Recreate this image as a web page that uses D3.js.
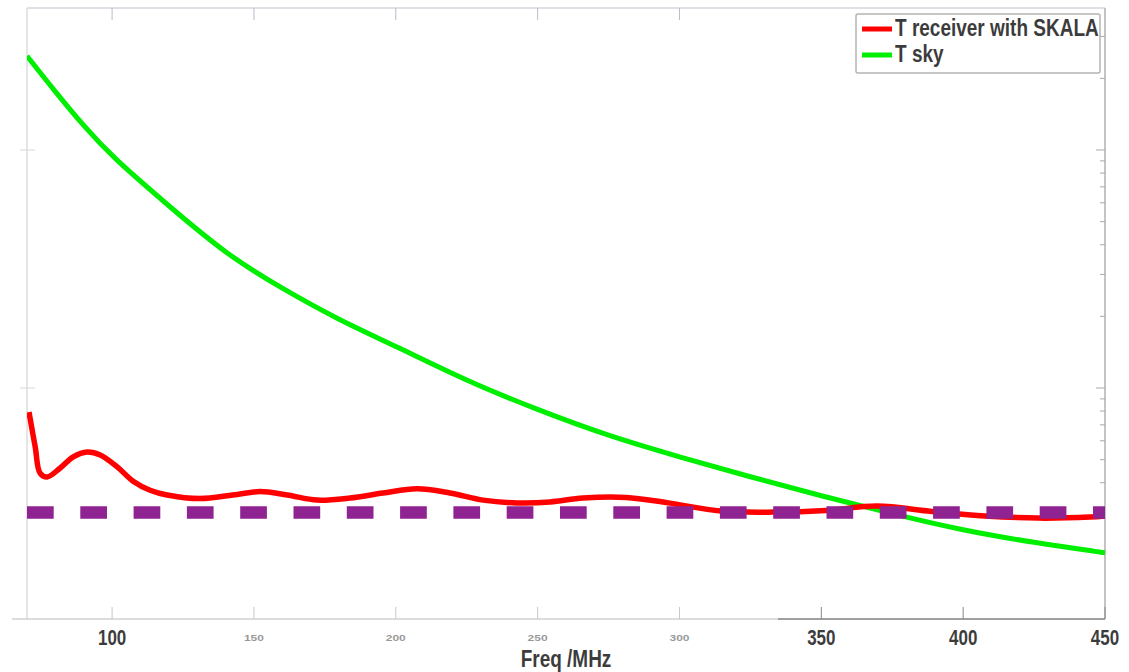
<!DOCTYPE html>
<meta charset="utf-8">
<style>
  body { margin: 0; background: #fff; }
  .lbl { font-family: "Liberation Sans", Arial, sans-serif; fill: #1a1a1a; }
</style>
<body>
<script src="https://cdn.jsdelivr.net/npm/d3@7/dist/d3.min.js"></script>
<script>

// frequency (MHz) and temperature (K)
var skyFreq = [70, 80, 90, 100, 120, 140, 160, 180, 200, 225, 250, 275, 300, 325, 350, 375, 400, 425, 450];
var skyTemp = [2484, 1754, 1262, 935, 582, 366, 261, 193, 150, 107, 80.9, 62.8, 51.3, 42.3, 35.2, 29.6, 25.2, 22.4, 20.3];

var rxFreq = [70.7, 72.9, 74.6, 77.1, 81.7, 86.3, 91.2, 95.8, 101.8, 107.4, 113.4, 119.4, 131.0, 142.6, 152.2, 161.7,
  172.3, 183.9, 195.5, 207.5, 219.1, 230.8, 242.8, 254.4, 266.0, 281.2, 296.0, 314.7, 333.3, 351.7, 369.6, 389.0,
  407.7, 426.4, 444.7, 450];
var rxTemp = [79.2, 56.5, 43.9, 42.3, 46.1, 51.3, 53.8, 52.3, 46.6, 40.6, 37.2, 35.5, 34.3, 35.5, 36.7, 35.5,
  33.8, 34.5, 36.2, 37.7, 36.2, 33.8, 32.9, 33.2, 34.5, 34.7, 32.9, 30.4, 30.1, 30.6, 31.9, 30.3,
  29.0, 28.4, 28.7, 29.0];

var refFreq = [70, 450];
var refTemp = [30, 30];

var xTicks = [100, 150, 200, 250, 300, 350, 400, 450];
var fadedTicks = [150, 200, 250, 300];

var legendNames = ["T receiver with SKALA", "T sky"];
var legendColors = ["#ff0000", "#00ee00"];

var width = 1129, height = 672;
var pLeft = 27, pRight = 1105, pTop = 8, pBottom = 619;

var x = d3.scaleLinear().domain([70, 450]).range([pLeft, pRight]);
var y = d3.scaleLog().domain([10.7, 3950]).range([pBottom, pTop]);

var svg = d3.select("body").append("svg")
    .attr("width", width)
    .attr("height", height);

svg.append("defs").append("clipPath").attr("id", "plot")
  .append("rect")
    .attr("x", pLeft).attr("y", pTop)
    .attr("width", pRight - pLeft).attr("height", pBottom - pTop);

// frame
svg.append("line").attr("x1", pLeft).attr("x2", pRight).attr("y1", pTop).attr("y2", pTop)
    .attr("stroke", "#d4d4dc").attr("stroke-width", 1.5);
svg.append("line").attr("x1", pLeft).attr("x2", pLeft).attr("y1", pTop).attr("y2", pBottom)
    .attr("stroke", "#dcdcdc").attr("stroke-width", 1.5);
svg.append("line").attr("x1", pRight).attr("x2", pRight).attr("y1", pTop).attr("y2", pBottom)
    .attr("stroke", "#b0b0b0").attr("stroke-width", 1.5);
svg.append("line").attr("x1", 12).attr("x2", pRight).attr("y1", pBottom).attr("y2", pBottom)
    .attr("stroke", "#d0d0d0").attr("stroke-width", 1.5);
svg.append("line").attr("x1", 778).attr("x2", pRight).attr("y1", pBottom).attr("y2", pBottom)
    .attr("stroke", "#8c8c8c").attr("stroke-width", 1.5);

// x ticks, bottom and top
svg.append("g").selectAll("line").data(xTicks).enter().append("line")
    .attr("x1", function(d) { return x(d); }).attr("x2", function(d) { return x(d); })
    .attr("y1", pBottom).attr("y2", pBottom - 12)
    .attr("stroke", function(d) { return d >= 350 ? "#888" : "#c8c8c8"; });
svg.append("g").selectAll("line").data(xTicks.slice(0, 5)).enter().append("line")
    .attr("x1", function(d) { return x(d); }).attr("x2", function(d) { return x(d); })
    .attr("y1", pTop).attr("y2", pTop + 12)
    .attr("stroke", "#b8bccb");

// y ticks (log), right side inward, left side faint
var yTicks = y.ticks().filter(function(d) { return d >= 20 && d <= 3000; });
svg.append("g").selectAll("line").data(yTicks).enter().append("line")
    .attr("x1", pRight).attr("y1", function(d) { return y(d); }).attr("y2", function(d) { return y(d); })
    .attr("x2", function(d) { return [100, 1000].indexOf(d) >= 0 ? pRight - 9 : pRight - 5; })
    .attr("stroke", "#a8a8a8");
svg.append("g").selectAll("line").data([100, 1000]).enter().append("line")
    .attr("x1", pLeft - 7).attr("x2", pLeft + 8)
    .attr("y1", function(d) { return y(d); }).attr("y2", function(d) { return y(d); })
    .attr("stroke", "#d8d8d8");

// x tick labels
svg.append("g").selectAll("text").data(xTicks).enter().append("text")
    .attr("class", "lbl")
    .attr("text-anchor", "middle")
    .attr("transform", function(d) {
      var faded = fadedTicks.indexOf(d) >= 0;
      return "translate(" + x(d) + "," + (faded ? 641 : 645) + ") scale(1," + (faded ? 0.8 : 1.3) + ")";
    })
    .style("font-size", function(d) { return fadedTicks.indexOf(d) >= 0 ? "12px" : "17px"; })
    .style("font-weight", "bold")
    .style("opacity", function(d) { return fadedTicks.indexOf(d) >= 0 ? 0.45 : 0.85; })
    .text(function(d) { return d; });

svg.append("text")
    .attr("class", "lbl")
    .attr("text-anchor", "middle")
    .attr("transform", "translate(" + x(260) + ",667) scale(1,1.3)")
    .style("font-size", "19px")
    .style("font-weight", "bold")
    .style("opacity", 0.85)
    .text("Freq /MHz");

var skyLine = d3.line()
    .x(function(d) { return x(d[0]); })
    .y(function(d) { return y(d[1]); })
    .curve(d3.curveBasis);

var rxLine = d3.line()
    .x(function(d) { return x(d[0]); })
    .y(function(d) { return y(d[1]); })
    .curve(d3.curveCatmullRom.alpha(0.5));

var plot = svg.append("g").attr("clip-path", "url(#plot)");

plot.append("path")
    .datum(d3.zip(skyFreq, skyTemp))
    .attr("fill", "none")
    .attr("stroke", legendColors[1])
    .attr("stroke-width", 5)
    .attr("d", skyLine);

plot.append("path")
    .datum(d3.zip(rxFreq, rxTemp))
    .attr("fill", "none")
    .attr("stroke", legendColors[0])
    .attr("stroke-width", 5.5)
    .attr("d", rxLine);

plot.append("path")
    .datum(d3.zip(refFreq, refTemp))
    .attr("fill", "none")
    .attr("stroke", "#8e2391")
    .attr("stroke-width", 12.5)
    .attr("stroke-dasharray", "26.7 26.6")
    .attr("d", d3.line().x(function(d) { return x(d[0]); }).y(function(d) { return y(d[1]); }));

// legend
var legend = svg.append("g");
legend.append("rect")
    .attr("x", 856).attr("y", 14).attr("width", 244).attr("height", 59)
    .attr("rx", 2)
    .attr("fill", "#fff").attr("stroke", "#b4b4b4").attr("stroke-width", 1.5);

var entry = legend.selectAll("g.entry").data(legendNames).enter().append("g")
    .attr("class", "entry")
    .attr("transform", function(d, i) { return "translate(0," + (29 + i * 26) + ")"; });
entry.append("line")
    .attr("x1", 862).attr("x2", 892)
    .attr("stroke", function(d, i) { return legendColors[i]; })
    .attr("stroke-width", 5);
entry.append("text")
    .attr("class", "lbl")
    .attr("transform", "translate(895,7) scale(1,1.25)")
    .style("font-size", "19px")
    .style("font-weight", "bold")
    .style("opacity", 0.85)
    .text(function(d) { return d; });

</script>
</body>
